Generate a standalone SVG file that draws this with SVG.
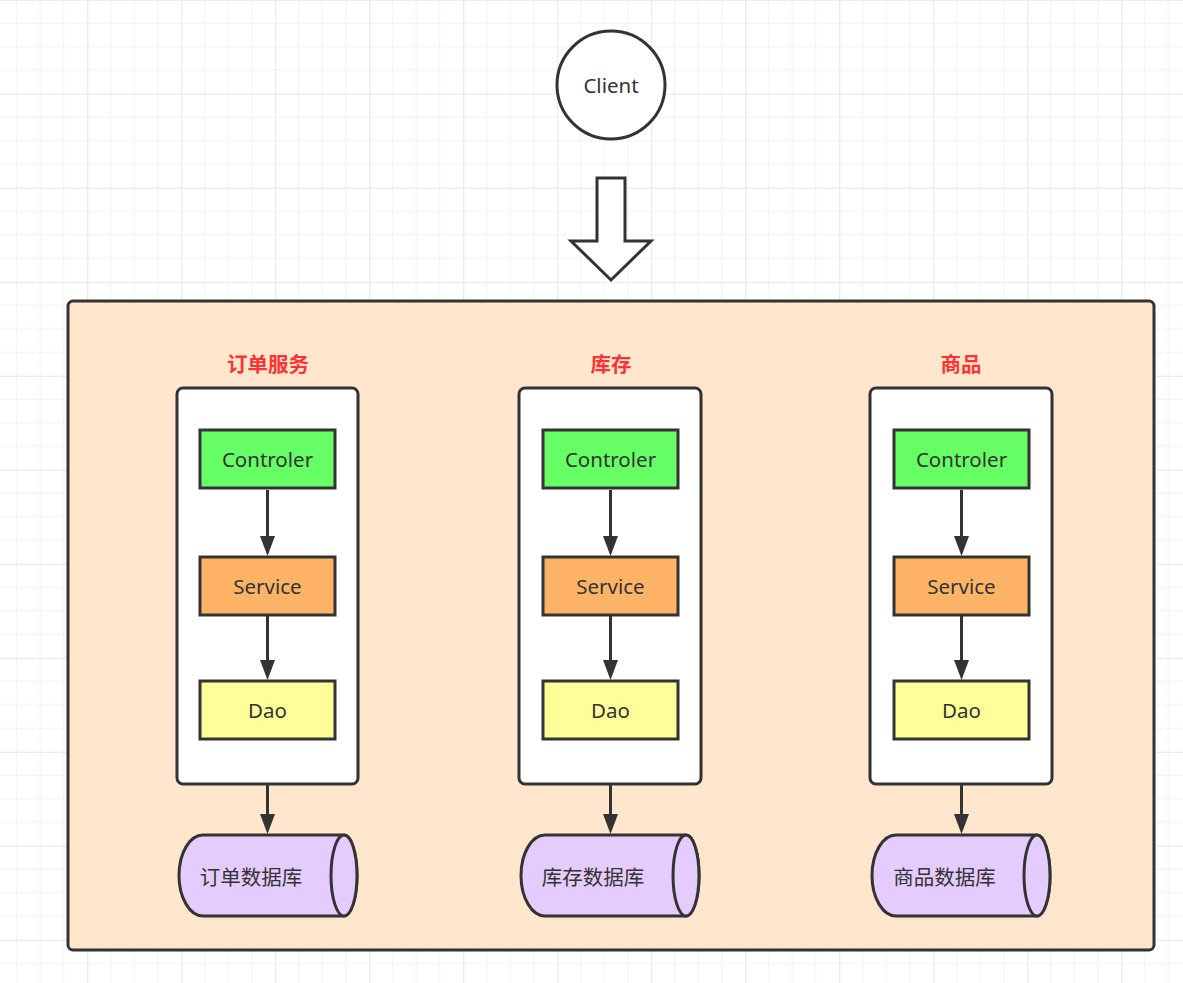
<svg xmlns="http://www.w3.org/2000/svg" width="1183" height="983" viewBox="0 0 1183 983">
<defs>
<pattern id="grid" patternUnits="userSpaceOnUse" x="-6.7" y="-0.3" width="94" height="94">
<rect width="94" height="94" fill="#ffffff"/>
<path d="M23.5 0V94M47 0V94M70.5 0V94M0 23.5H94M0 47H94M0 70.5H94" stroke="#f2f2f2" stroke-width="1" fill="none"/>
<path d="M0.5 0V94M0 0.5H94" stroke="#e6e6e6" stroke-width="1" fill="none"/>
</pattern>
<marker id="ah" markerUnits="userSpaceOnUse" markerWidth="20" markerHeight="16" viewBox="0 0 20 16" refX="14" refY="8" orient="auto">
<path d="M0,0.5 L20,8 L0,15.5 Z" fill="#333333"/>
</marker>
</defs>
<style>
.st{stroke:#333333;stroke-width:3}
.lbl{font-family:"Noto Sans","Liberation Sans","Noto Sans CJK SC",sans-serif;font-size:20.5px;fill:#333333;text-anchor:middle;dominant-baseline:central}
.cjk{font-family:"Noto Sans CJK SC","Noto Sans",sans-serif;font-size:20.5px;fill:#333333;text-anchor:middle;dominant-baseline:central}
.title{font-family:"Noto Sans CJK SC","Noto Sans",sans-serif;font-size:20.5px;font-weight:bold;fill:#ff3333;text-anchor:middle;dominant-baseline:central}
.conn{stroke:#333333;stroke-width:3;fill:none}
.ctl{fill:#66ff66}
.svc{fill:#ffb366}
.dao{fill:#ffff99}
.db{fill:#e5ccff}
</style>
<rect width="1183" height="983" fill="url(#grid)"/>

<g id="client">
<circle cx="611" cy="85" r="54" fill="#ffffff" class="st"/>
<text x="611" y="85" class="lbl">Client</text>
</g>
<g id="bigArrow">
<polygon points="597,178 625,178 625,241 651,241 611,280 571,241 597,241" fill="#ffffff" class="st" stroke-linejoin="miter"/>
</g>

<g id="container">
<rect x="68" y="301" width="1086" height="649" rx="5" fill="#ffe6cc" class="st"/>
</g>

<g id="svc-order">
<text x="268" y="363" class="title">订单服务</text>
<rect x="177" y="388" width="181" height="396" rx="6" fill="#ffffff" class="st"/>
</g>
<g id="svc-stock">
<text x="611" y="363" class="title">库存</text>
<rect x="519" y="388" width="182" height="396" rx="6" fill="#ffffff" class="st"/>
</g>
<g id="svc-goods">
<text x="961" y="363" class="title">商品</text>
<rect x="870" y="388" width="182" height="396" rx="6" fill="#ffffff" class="st"/>
</g>

<g id="ctl-1"><rect x="200" y="430" width="135" height="58" class="st ctl"/><text x="267.5" y="459" class="lbl">Controler</text></g>
<g id="svc-1"><rect x="200" y="557" width="135" height="58" class="st svc"/><text x="267.5" y="586" class="lbl">Service</text></g>
<g id="dao-1"><rect x="200" y="681" width="135" height="58" class="st dao"/><text x="267.5" y="710" class="lbl">Dao</text></g>

<g id="ctl-2"><rect x="543" y="430" width="135" height="58" class="st ctl"/><text x="610.5" y="459" class="lbl">Controler</text></g>
<g id="svc-2"><rect x="543" y="557" width="135" height="58" class="st svc"/><text x="610.5" y="586" class="lbl">Service</text></g>
<g id="dao-2"><rect x="543" y="681" width="135" height="58" class="st dao"/><text x="610.5" y="710" class="lbl">Dao</text></g>

<g id="ctl-3"><rect x="894" y="430" width="135" height="58" class="st ctl"/><text x="961.5" y="459" class="lbl">Controler</text></g>
<g id="svc-3"><rect x="894" y="557" width="135" height="58" class="st svc"/><text x="961.5" y="586" class="lbl">Service</text></g>
<g id="dao-3"><rect x="894" y="681" width="135" height="58" class="st dao"/><text x="961.5" y="710" class="lbl">Dao</text></g>

<g id="db-1">
<path d="M203 835 L344 835 A13 40.5 0 0 1 344 916 L203 916 A24 40.5 0 0 1 203 835 Z" class="st db"/>
<ellipse cx="344" cy="875.5" rx="13" ry="40.5" class="st db"/>
<text x="251" y="876" class="cjk">订单数据库</text>
</g>
<g id="db-2">
<path d="M545 835 L686 835 A13 40.5 0 0 1 686 916 L545 916 A24 40.5 0 0 1 545 835 Z" class="st db"/>
<ellipse cx="686" cy="875.5" rx="13" ry="40.5" class="st db"/>
<text x="593" y="876" class="cjk">库存数据库</text>
</g>
<g id="db-3">
<path d="M896 835 L1037 835 A13 40.5 0 0 1 1037 916 L896 916 A24 40.5 0 0 1 896 835 Z" class="st db"/>
<ellipse cx="1037" cy="875.5" rx="13" ry="40.5" class="st db"/>
<text x="944.5" y="876" class="cjk">商品数据库</text>
</g>

<g id="connectors">
<line x1="267.5" y1="490" x2="267.5" y2="550" class="conn" marker-end="url(#ah)"/>
<line x1="267.5" y1="615" x2="267.5" y2="674" class="conn" marker-end="url(#ah)"/>
<line x1="267.5" y1="784" x2="267.5" y2="828" class="conn" marker-end="url(#ah)"/>
<line x1="610.5" y1="490" x2="610.5" y2="550" class="conn" marker-end="url(#ah)"/>
<line x1="610.5" y1="615" x2="610.5" y2="674" class="conn" marker-end="url(#ah)"/>
<line x1="610.5" y1="784" x2="610.5" y2="828" class="conn" marker-end="url(#ah)"/>
<line x1="961.5" y1="490" x2="961.5" y2="550" class="conn" marker-end="url(#ah)"/>
<line x1="961.5" y1="615" x2="961.5" y2="674" class="conn" marker-end="url(#ah)"/>
<line x1="961.5" y1="784" x2="961.5" y2="828" class="conn" marker-end="url(#ah)"/>
</g>
</svg>
